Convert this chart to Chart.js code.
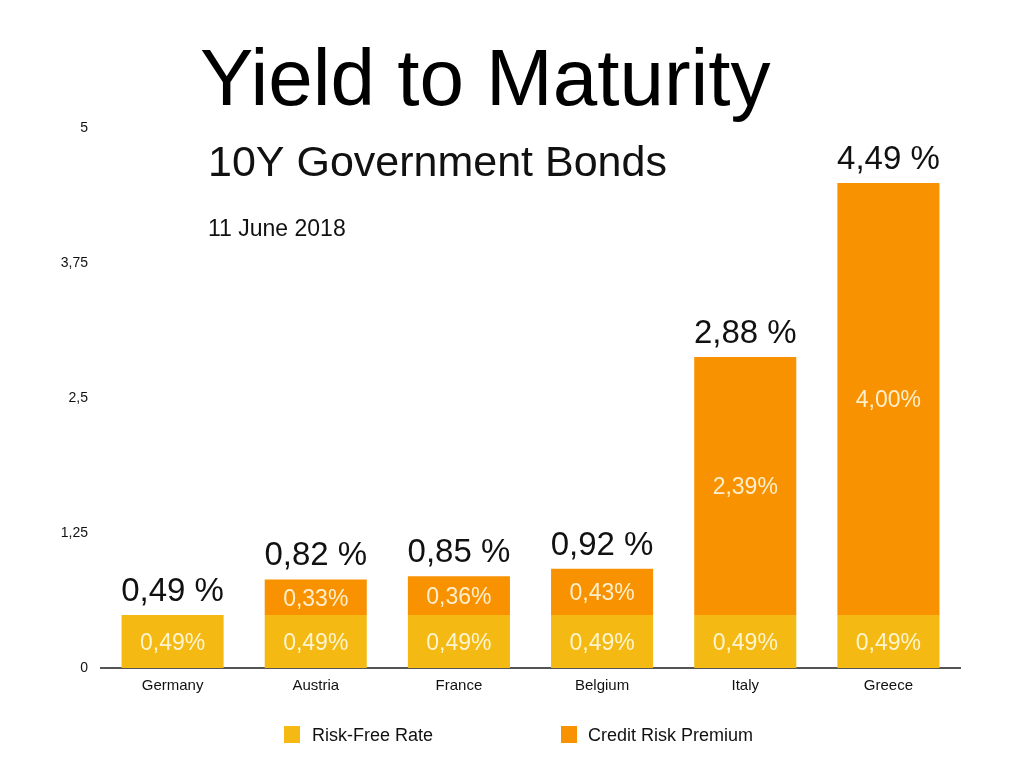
<!DOCTYPE html>
<html>
<head>
<meta charset="utf-8">
<script src="https://cdn.jsdelivr.net/npm/chart.js@4.4.1/dist/chart.umd.min.js"></script>
<style>
  html, body { margin: 0; padding: 0; background: #fff; }
  #wrap { position: relative; width: 1024px; height: 768px; }
  canvas { position: absolute; left: 0; top: 0; }
  .leg { position: absolute; font-family: "Liberation Sans", Arial, Helvetica, sans-serif; font-size: 18px; color: #111; line-height: 18px; }
  .sw { position: absolute; width: 16px; height: 17px; }
</style>
</head>
<body>
<div id="wrap">
  <canvas id="c" width="1024" height="768"></canvas>
  <div class="sw" id="sw1" style="left:284px; top:726px;"></div>
  <div class="leg" id="lt1" style="left:312px; top:726px;"></div>
  <div class="sw" id="sw2" style="left:561px; top:726px;"></div>
  <div class="leg" id="lt2" style="left:588px; top:726px;"></div>
</div>
<script>
const categories = ["Germany", "Austria", "France", "Belgium", "Italy", "Greece"];
const riskFree = [0.49, 0.49, 0.49, 0.49, 0.49, 0.49];
const creditPremium = [0, 0.33, 0.36, 0.43, 2.39, 4.00];
const totals = [0.49, 0.82, 0.85, 0.92, 2.88, 4.49];
const seriesNames = ["Risk-Free Rate", "Credit Risk Premium"];
const yTicks = [0, 1.25, 2.5, 3.75, 5];
const titleText = "Yield to Maturity";
const subtitleText = "10Y Government Bonds";
const dateText = "11 June 2018";

const YELLOW = "#F4B912";
const ORANGE = "#F99200";
const FONT = '"Liberation Sans", Arial, Helvetica, sans-serif';

document.getElementById('sw1').style.background = YELLOW;
document.getElementById('sw2').style.background = ORANGE;
document.getElementById('lt1').textContent = seriesNames[0];
document.getElementById('lt2').textContent = seriesNames[1];

const fmt = v => v.toFixed(2).replace('.', ',');

const labelsPlugin = {
  id: 'labelsPlugin',
  afterDatasetsDraw(chart) {
    const ctx = chart.ctx;
    ctx.save();
    ctx.textAlign = 'center';
    ctx.textBaseline = 'middle';
    ctx.font = '23px ' + FONT;
    ctx.fillStyle = 'rgba(255,255,240,0.85)';
    chart.data.datasets.forEach((ds, di) => {
      const meta = chart.getDatasetMeta(di);
      meta.data.forEach((el, i) => {
        const v = ds.data[i];
        if (!v) return;
        const cy = (el.y + el.base) / 2;
        ctx.fillText(fmt(v) + '%', el.x, cy + 2);
      });
    });
    // totals above stacks
    ctx.fillStyle = '#111';
    ctx.font = '33px ' + FONT;
    ctx.textBaseline = 'alphabetic';
    const yScale = chart.scales.y;
    const m0 = chart.getDatasetMeta(0);
    totals.forEach((t, i) => {
      const x = m0.data[i].x;
      const y = yScale.getPixelForValue(t);
      ctx.fillText(fmt(t) + ' %', x, y - 14);
    });
    ctx.restore();
  },
  afterDraw(chart) {
    const ctx = chart.ctx;
    ctx.save();
    ctx.fillStyle = '#000';
    ctx.textAlign = 'left';
    ctx.textBaseline = 'alphabetic';
    ctx.font = '80px ' + FONT;
    ctx.fillText(titleText, 200, 105);
    ctx.font = '43px ' + FONT;
    ctx.fillStyle = '#111';
    ctx.fillText(subtitleText, 208, 176);
    ctx.font = '23px ' + FONT;
    ctx.fillText(dateText, 208, 236);
    ctx.restore();
  }
};

new Chart(document.getElementById('c'), {
  type: 'bar',
  data: {
    labels: categories,
    datasets: [
      { label: seriesNames[0], data: riskFree, backgroundColor: YELLOW, borderWidth: 0 },
      { label: seriesNames[1], data: creditPremium, backgroundColor: ORANGE, borderWidth: 0 }
    ]
  },
  options: {
    responsive: false,
    animation: false,
    events: [],
    layout: { padding: { top: 128, right: 64, bottom: 0, left: 0 } },
    plugins: {
      legend: { display: false },
      tooltip: { enabled: false },
      title: { display: false }
    },
    datasets: { bar: { categoryPercentage: 1.0, barPercentage: 0.713 } },
    scales: {
      x: {
        stacked: true,
        grid: { display: false, drawTicks: false },
        border: { display: true, color: '#555', width: 2 },
        ticks: { color: '#111', font: { family: FONT, size: 15 }, padding: 9 },
        afterFit(s) { s.height = 100; }
      },
      y: {
        stacked: true,
        min: 0,
        max: 5,
        afterBuildTicks(s) { s.ticks = yTicks.map(v => ({ value: v })); },
        grid: { display: false, drawTicks: false },
        border: { display: false },
        ticks: {
          color: '#111',
          font: { family: FONT, size: 14 },
          padding: 13,
          callback: v => String(v).replace('.', ',')
        },
        afterFit(s) { s.width = 101; }
      }
    }
  },
  plugins: [labelsPlugin]
});
</script>
</body>
</html>
